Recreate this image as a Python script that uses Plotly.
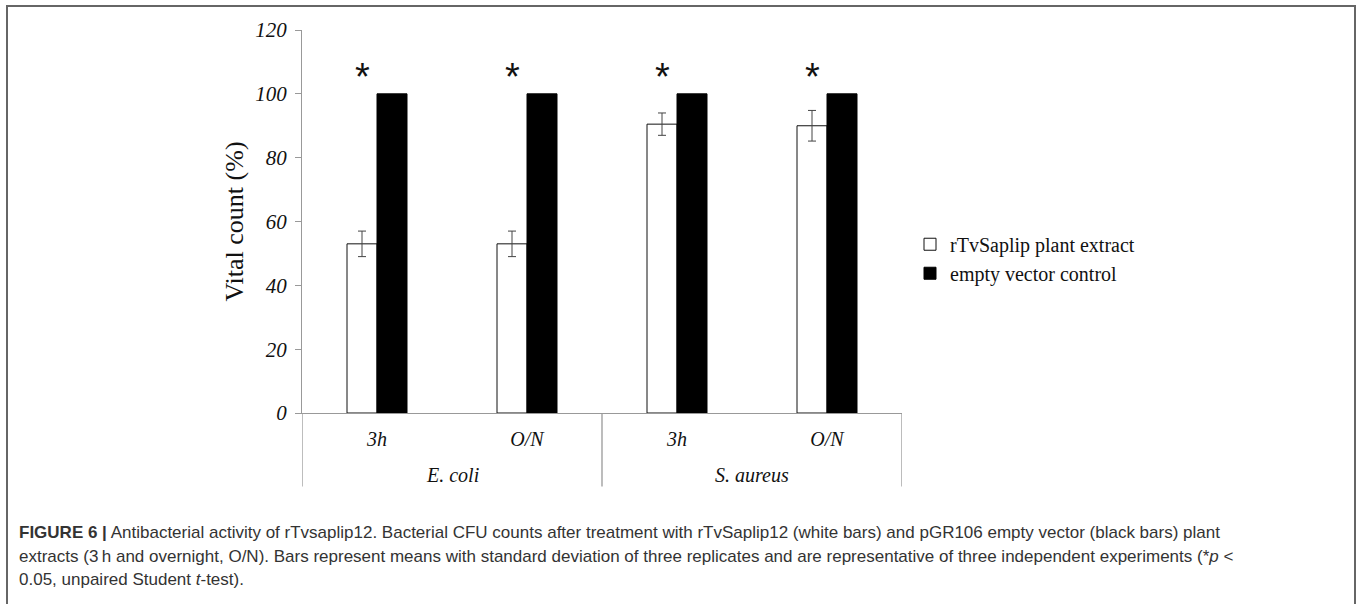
import plotly.graph_objects as go

# Data
organisms = ["E. coli", "E. coli", "S. aureus", "S. aureus"]
timepoints = ["3h", "O/N", "3h", "O/N"]
extract_values = [53, 53, 90.5, 90]
extract_sd = [4, 4, 3.5, 4.8]
control_values = [100, 100, 100, 100]
significance_level = [106.5, 106.5, 106.5, 106.5]
series_names = ["rTvSaplip plant extract", "empty vector control"]
y_ticks = [0, 20, 40, 60, 80, 100, 120]

positions = list(range(len(timepoints)))

W, H = 1360, 604
L, R, T, B = 302, 458, 30, 190.5
plot_w = W - L - R
plot_h = H - T - B


def px_x(px):
    return (px - L) / plot_w


def px_y(py):
    return (H - B - py) / plot_h


serif = "Liberation Serif, Times New Roman, serif"
sans = "Liberation Sans, Arial, sans-serif"

fig = go.Figure()
fig.add_trace(go.Bar(
    x=positions, y=extract_values, name=series_names[0],
    marker=dict(color="white", line=dict(color="#111", width=1)),
    error_y=dict(type="data", array=extract_sd, visible=True,
                 color="#444", thickness=1, width=4),
))
fig.add_trace(go.Bar(
    x=positions, y=control_values, name=series_names[1],
    marker=dict(color="black", line=dict(color="black", width=1)),
))

# significance stars above the extract bars
for xi, yi in zip(positions, significance_level):
    fig.add_annotation(x=xi, y=yi, text="*", showarrow=False, xshift=-15, yshift=-4,
                       yanchor="middle", font=dict(family=sans, size=38, color="#111"))

# organism group labels and dividers under the axis
groups = []
for i, org in enumerate(organisms):
    if not groups or groups[-1][0] != org:
        groups.append([org, i, i])
    else:
        groups[-1][2] = i
edges = sorted({g[1] - 0.5 for g in groups} | {g[2] + 0.5 for g in groups})
for org, a, b in groups:
    fig.add_annotation(x=(a + b) / 2, y=px_y(476), yref="paper", text=f"<i>{org}</i>",
                       showarrow=False, yanchor="middle",
                       font=dict(family=serif, size=20, color="#111"))
for e in edges:
    fig.add_shape(type="line", x0=e, x1=e, y0=0, y1=px_y(487), yref="paper",
                  line=dict(color="#999", width=1.3))

# outer frame of the figure panel
fig.add_shape(type="rect", xref="paper", yref="paper",
              x0=px_x(7), x1=px_x(1355), y0=px_y(6), y1=px_y(640),
              line=dict(color="#666", width=2), fillcolor="rgba(0,0,0,0)")

# caption
caption_lines = [
    "<b>FIGURE 6 |</b> Antibacterial activity of rTvsaplip12. Bacterial CFU counts after treatment "
    "with rTvSaplip12 (white bars) and pGR106 empty vector (black bars) plant",
    "extracts (3\u2009h and overnight, O/N). Bars represent means with standard deviation of three "
    "replicates and are representative of three independent experiments (*<i>p</i> <",
    "0.05, unpaired Student <i>t</i>-test).",
]
for line, cy in zip(caption_lines, [533, 557, 580]):
    fig.add_annotation(x=px_x(17), y=px_y(cy), xref="paper", yref="paper", text=line,
                       showarrow=False, xanchor="left", yanchor="middle",
                       font=dict(family=sans, size=17, color="#333"))

fig.update_layout(
    width=W, height=H,
    margin=dict(l=L, r=R, t=T, b=B, pad=0),
    paper_bgcolor="white", plot_bgcolor="white",
    barmode="group", bargap=0.6, bargroupgap=0,
    showlegend=True,
    legend=dict(x=px_x(910), y=px_y(225), xanchor="left", yanchor="top",
                font=dict(family=serif, size=20, color="#111"),
                bgcolor="rgba(0,0,0,0)", itemwidth=30, tracegroupgap=0),
    xaxis=dict(
        range=[-0.5, len(positions) - 0.5],
        tickmode="array", tickvals=positions,
        ticktext=[f"<i>{t}</i>" for t in timepoints],
        tickfont=dict(family=serif, size=20, color="#111"),
        showline=True, linecolor="#999", linewidth=1.3,
        ticks="", showgrid=False, zeroline=False,
        ticklabelstandoff=8,
    ),
    yaxis=dict(
        range=[0, 120], tickmode="array", tickvals=y_ticks,
        ticktext=[f"<i>{v}</i>" for v in y_ticks],
        tickfont=dict(family=serif, size=21, color="#111"),
        showline=True, linecolor="#999", linewidth=1.3,
        ticks="outside", ticklen=6, tickcolor="#999", tickwidth=1,
        ticklabelstandoff=4,
        showgrid=False, zeroline=False,
        title=dict(text="Vital count (%)", standoff=4,
                   font=dict(family=serif, size=26, color="#111")),
    ),
)

fig.write_html("out.html")
